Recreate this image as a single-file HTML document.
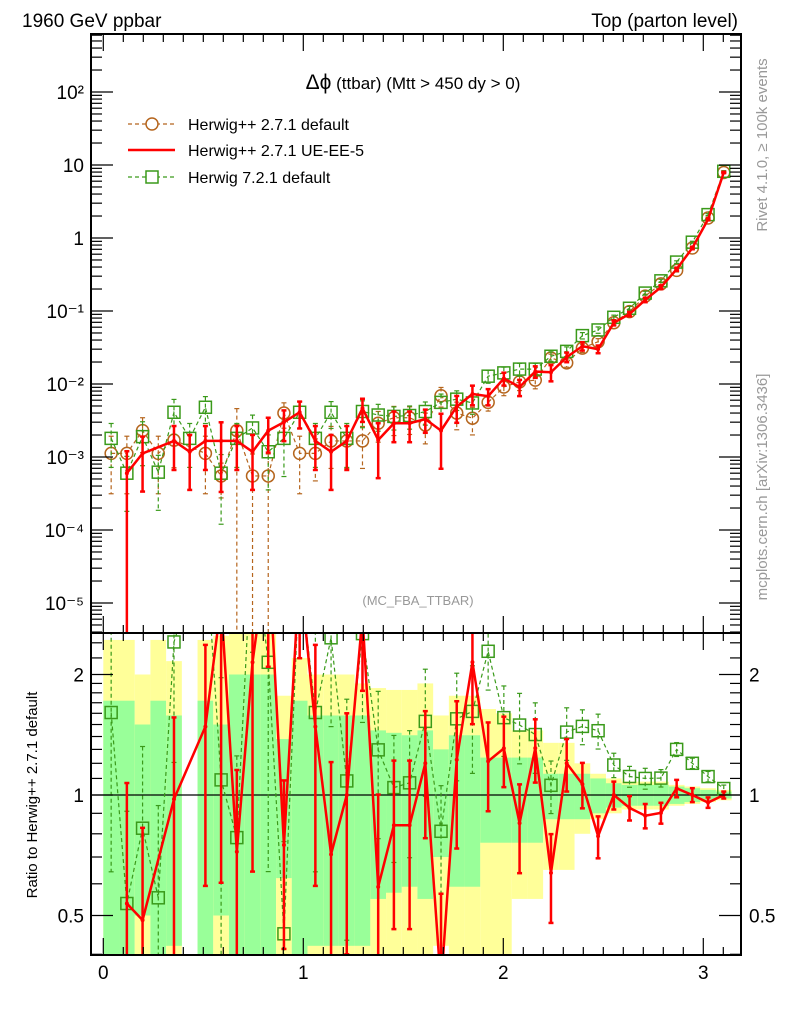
<!DOCTYPE html>
<html><head><meta charset="utf-8"><style>
html,body{margin:0;padding:0;background:#fff;width:786px;height:1024px;overflow:hidden;}
svg{display:block;font-family:"Liberation Sans",sans-serif;}
</style></head><body>
<svg id="chart" width="786" height="1024" viewBox="0 0 786 1024" xmlns="http://www.w3.org/2000/svg">
<defs>
<clipPath id="cm"><rect x="91" y="34" width="650" height="599"/></clipPath>
<clipPath id="cr"><rect x="91" y="633" width="650" height="322"/></clipPath>
</defs>
<g id="bands" clip-path="url(#cr)"></g>
<g id="ratioMarks" clip-path="url(#cr)"></g>
<g id="mainMarks" clip-path="url(#cm)"></g>
<g id="axes"></g>
<text x="22" y="27" font-size="19">1960 GeV ppbar</text>
<text x="738" y="27" font-size="19" text-anchor="end">Top (parton level)</text>
<text x="413" y="89" font-size="17" text-anchor="middle"><tspan font-size="21">Δϕ</tspan> (ttbar) (Mtt &gt; 450 dy &gt; 0)</text>
<text x="418" y="605" font-size="13" fill="#999" text-anchor="middle">(MC_FBA_TTBAR)</text>
<text transform="translate(767,145) rotate(-90)" font-size="15" fill="#999" text-anchor="middle">Rivet 4.1.0, ≥ 100k events</text>
<text transform="translate(767,487) rotate(-90)" font-size="15" fill="#999" text-anchor="middle">mcplots.cern.ch [arXiv:1306.3436]</text>
<text transform="translate(37,795) rotate(-90)" font-size="15" text-anchor="middle">Ratio to Herwig++ 2.7.1 default</text>
<g>
 <g>
  <line x1="128" y1="124" x2="175" y2="124" stroke="#b5651d" stroke-width="1.2" stroke-dasharray="4,3"/>
  <circle cx="152" cy="124" r="6" fill="#fff" stroke="#b5651d" stroke-width="1.5"/>
  <text x="188" y="130" font-size="16">Herwig++ 2.7.1 default</text>
 </g>
 <g>
  <line x1="128" y1="150" x2="175" y2="150" stroke="#ff0000" stroke-width="2.5"/>
  <text x="188" y="156" font-size="16">Herwig++ 2.7.1 UE-EE-5</text>
 </g>
 <g>
  <line x1="128" y1="177" x2="175" y2="177" stroke="#3a9a1a" stroke-width="1.2" stroke-dasharray="4,3"/>
  <rect x="146" y="171" width="12" height="12" fill="#fff" stroke="#3a9a1a" stroke-width="1.5"/>
  <text x="188" y="183" font-size="16">Herwig 7.2.1 default</text>
 </g>
</g>
</svg>
<script>
const nBins = 40;
const brownVals = [1.12e-3,1.12e-3,2.3e-3,1.12e-3,1.7e-3,0,1.12e-3,5.5e-4,2.3e-3,5.5e-4,5.5e-4,4.0e-3,1.12e-3,1.12e-3,1.66e-3,1.66e-3,1.66e-3,2.9e-3,3.45e-3,3.45e-3,2.75e-3,6.9e-3,4.0e-3,3.4e-3,5.6e-3,9.1e-3,1.07e-2,1.13e-2,2.27e-2,1.95e-2,3.1e-2,3.8e-2,0.069,0.098,0.16,0.235,0.36,0.73,1.88,7.9];
const redVals = [0,6e-4,1.12e-3,0,1.66e-3,1.18e-3,1.66e-3,1.66e-3,1.66e-3,1.18e-3,2.3e-3,3.0e-3,4.1e-3,1.66e-3,1.18e-3,1.66e-3,4.65e-3,1.71e-3,2.9e-3,2.9e-3,3.3e-3,2.3e-3,4.9e-3,7.3e-3,6.8e-3,1.19e-2,9.1e-3,1.48e-2,1.45e-2,2.34e-2,3.3e-2,3.0e-2,0.069,0.091,0.142,0.212,0.374,0.73,1.80,7.9];
const greenVals = [1.8e-3,6e-4,1.9e-3,6.2e-4,4.1e-3,1.8e-3,4.8e-3,6e-4,1.8e-3,2.5e-3,1.18e-3,1.8e-3,4.1e-3,1.8e-3,4.1e-3,1.8e-3,4.2e-3,3.76e-3,3.6e-3,3.7e-3,4.2e-3,5.6e-3,6.2e-3,5.5e-3,1.28e-2,1.42e-2,1.6e-2,1.6e-2,2.4e-2,2.8e-2,4.6e-2,5.5e-2,0.082,0.109,0.176,0.259,0.468,0.876,2.09,8.2];
const redErr = [0,1.0,0.7,0.8,0.6,0.7,0.6,0.8,0.6,0.7,0.5,0.45,0.4,0.6,0.7,0.6,0.35,0.7,0.45,0.45,0.35,0.7,0.4,0.3,0.25,0.2,0.25,0.18,0.25,0.15,0.13,0.12,0.08,0.07,0.07,0.06,0.05,0.04,0.03,0.02];
const greenErr = [0.6,0.7,0.6,0.7,0.5,0.6,0.4,0.8,0.6,0.5,0.7,0.7,0.4,0.6,0.4,0.6,0.4,0.4,0.35,0.35,0.35,0.3,0.3,0.3,0.2,0.2,0.2,0.2,0.15,0.15,0.1,0.1,0.07,0.06,0.06,0.05,0.04,0.03,0.03,0.02];
const refStat = [0.72,0.72,0.5,0.72,0.58,0,0.72,0.5,1.0,1.0,1.0,0.38,0.72,0.58,0.58,0.58,0.58,0.45,0.43,0.41,0.45,0.3,0.41,0.41,0.24,0.24,0.24,0.24,0.13,0.13,0.13,0.1,0.07,0.06,0.06,0.06,0.05,0.04,0.03,0.02];
const refTot = [1.44,1.44,1.0,1.44,1.16,0,1.44,1.5,1.6,1.6,1.6,0.77,1.2,1.0,1.0,1.0,0.9,0.85,0.83,0.83,0.9,0.58,0.77,0.77,0.64,0.6,0.45,0.45,0.35,0.35,0.2,0.13,0.1,0.08,0.08,0.08,0.06,0.05,0.04,0.03];
const xTicks = [0,1,2,3];
const mainTickExp = [-5,-4,-3,-2,-1,0,1,2];
const mainTickLabels = ["10\u207B\u2075","10\u207B\u2074","10\u207B\u00B3","10\u207B\u00B2","10\u207B\u00B9","1","10","10\u00B2"];
const ratioTicks = [0.5,1,2];
const ratioTickLabels = ["0.5","1","2"];

const NS = "http://www.w3.org/2000/svg";
const X0 = 91, X1 = 741, MT = 34, MB = 633, RB = 955;
function xs(v){ return 103.3 + 200*v; }
function ym(v){ return 165 - 73*Math.log10(v/10); }
function yr(r){ return 795 - 120.5*Math.log2(r); }
const binW = Math.PI/nBins;
function center(i){ return (i+0.5)*binW; }
function mk(tag, attrs, parent){
  const e = document.createElementNS(NS, tag);
  for (const k in attrs) e.setAttribute(k, attrs[k]);
  parent.appendChild(e); return e;
}
const C = {brown:"#b5651d", red:"#ff0000", green:"#3a9a1a"};

const bands = document.getElementById('bands');
for (let i=0;i<nBins;i++){
  if (!brownVals[i]) continue;
  const xa = xs(i*binW), xb = xs((i+1)*binW);
  const t = refTot[i], s = refStat[i];
  const ty = yr(1+t), tb = (1-t)>0.01 ? yr(1-t) : RB+10;
  const yb = mk('rect',{x:xa,y:ty,width:xb-xa,height:tb-ty,fill:"#ffff99"},bands);
  
  
  const sy = yr(1+s), sb = (1-s)>0.01 ? yr(1-s) : RB+10;
  const gb = mk('rect',{x:xa,y:sy,width:xb-xa,height:sb-sy,fill:"#99ff99"},bands);
  
  
}

function drawSeries(parent, vals, errs, color, marker, dashed, yfun, bottom, name){
  const g = mk('g',{},parent);
  
  
  const pts = [];
  for (let i=0;i<nBins;i++){
    const v = vals[i];
    if (!(v>0)) continue;
    const x = xs(center(i)), y = yfun(v);
    pts.push(x+","+y);
    const e = errs[i]*v;
    const yt = yfun(v+e), yb = (v-e)>v*0.005 ? yfun(v-e) : bottom+10;
    const w = color===C.red?2.5:1.2;
    const bar = mk('line',{x1:x,y1:yt,x2:x,y2:yb,stroke:color,'stroke-width':w},g);
    if (dashed) bar.setAttribute('stroke-dasharray','4,3');
    
    
    mk('line',{x1:x-2.5,y1:yt,x2:x+2.5,y2:yt,stroke:color,'stroke-width':w},g);
    if (yb<bottom) mk('line',{x1:x-2.5,y1:yb,x2:x+2.5,y2:yb,stroke:color,'stroke-width':w},g);
  }
  const pl = mk('polyline',{points:pts.join(' '),fill:'none',stroke:color,'stroke-width':color===C.red?2.5:1.2},g);
  if (dashed) pl.setAttribute('stroke-dasharray','4,3');
  
  
  for (let i=0;i<nBins;i++){
    const v = vals[i];
    if (!(v>0)) continue;
    const x = xs(center(i)), y = yfun(v);
    let m;
    if (marker==='circle') m = mk('circle',{cx:x,cy:y,r:6,fill:'none',stroke:color,'stroke-width':1.5},g);
    else if (marker==='square') m = mk('rect',{x:x-6,y:y-6,width:12,height:12,fill:'none',stroke:color,'stroke-width':1.5},g);
    else m = mk('circle',{cx:x,cy:y,r:2,fill:color},g);
    
    
  }
}
const mainG = document.getElementById('mainMarks');
drawSeries(mainG, brownVals, refStat, C.brown, 'circle', true, ym, MB, 'series-herwigpp-default');
drawSeries(mainG, greenVals, greenErr, C.green, 'square', true, ym, MB, 'series-herwig-7-2-1');
drawSeries(mainG, redVals, redErr, C.red, 'dot', false, ym, MB, 'series-herwigpp-ue-ee-5');

const ratioG = document.getElementById('ratioMarks');
const rl = mk('line',{x1:X0,y1:yr(1),x2:X1,y2:yr(1),stroke:'#000','stroke-width':1.2},ratioG);


const greenRatio = greenVals.map((v,i)=>brownVals[i]>0&&v>0 ? v/brownVals[i] : 0);
const redRatio = redVals.map((v,i)=>brownVals[i]>0&&v>0 ? v/brownVals[i] : 0);
drawSeries(ratioG, greenRatio, greenErr, C.green, 'square', true, yr, RB, 'ratio-herwig-7-2-1');
drawSeries(ratioG, redRatio, redErr, C.red, 'none', false, yr, RB, 'ratio-herwigpp-ue-ee-5');

const ax = document.getElementById('axes');
const f1 = mk('rect',{x:X0,y:MT,width:X1-X0,height:MB-MT,fill:'none',stroke:'#000','stroke-width':2},ax);
 
const f2 = mk('rect',{x:X0,y:MB,width:X1-X0,height:RB-MB,fill:'none',stroke:'#000','stroke-width':2},ax);
 
for (let k=0;k<=31;k++){
  const v = k*0.1, x = xs(v); if (x>X1) break;
  const major = k%10===0, L = major?17:8;
  [[MT,1],[MB,-1],[MB,1],[RB,-1]].forEach(([y0,d])=>{
    mk('line',{x1:x,y1:y0,x2:x,y2:y0+d*L,stroke:'#000','stroke-width':1.2},ax);
  });
}
xTicks.forEach(v=>{
  const t = mk('text',{x:xs(v),y:979,'font-size':19,'text-anchor':'middle'},ax);
  t.textContent = String(v);
  
  
});
for (let e=-6;e<=2;e++){
  for (let m=1;m<=9;m++){
    const y = ym(m*Math.pow(10,e));
    if (y<MT||y>MB) continue;
    const L = m===1?22:11;
    mk('line',{x1:X0,y1:y,x2:X0+L,y2:y,stroke:'#000','stroke-width':1.2},ax);
    mk('line',{x1:X1,y1:y,x2:X1-L,y2:y,stroke:'#000','stroke-width':1.2},ax);
  }
}
mainTickExp.forEach((e,k)=>{
  const t = mk('text',{x:84,y:ym(Math.pow(10,e))+7,'font-size':19,'text-anchor':'end'},ax);
  t.textContent = mainTickLabels[k];
  
  
});
const rMinor = [0.4,0.5,0.6,0.7,0.8,0.9,1,1.1,1.2,1.3,1.4,1.5,1.6,1.7,1.8,1.9,2,2.2,2.4];
rMinor.forEach(r=>{
  const y = yr(r); if (y<MB||y>RB) return;
  const L = (r===0.5||r===1||r===2)?22:11;
  mk('line',{x1:X0,y1:y,x2:X0+L,y2:y,stroke:'#000','stroke-width':1.2},ax);
  mk('line',{x1:X1,y1:y,x2:X1-L,y2:y,stroke:'#000','stroke-width':1.2},ax);
});
ratioTicks.forEach((r,k)=>{
  const t = mk('text',{x:84,y:yr(r)+7,'font-size':19,'text-anchor':'end'},ax);
  t.textContent = ratioTickLabels[k];
  
  
  const t2 = mk('text',{x:749,y:yr(r)+7,'font-size':19},ax);
  t2.textContent = ratioTickLabels[k];
  
  
});
</script>
</body></html>
